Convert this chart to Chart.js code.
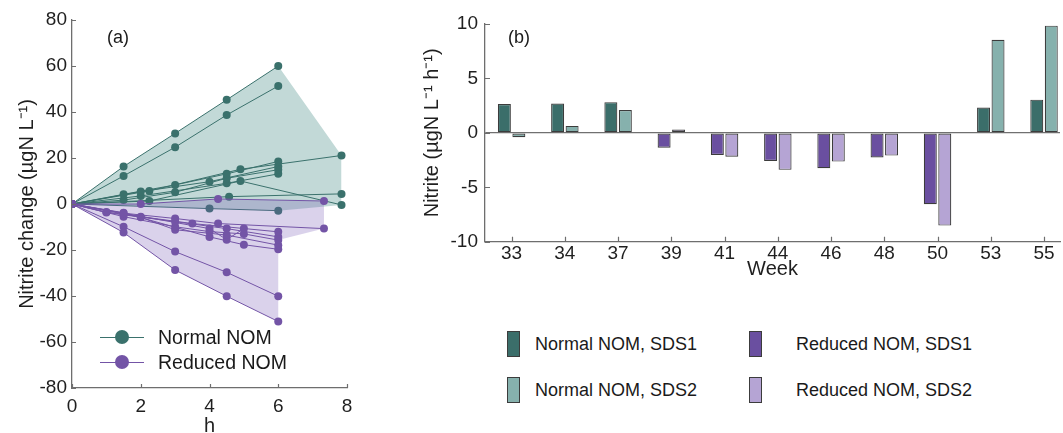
<!DOCTYPE html>
<html lang="en">
<head>
<meta charset="UTF-8">
<title>Nitrite change</title>
<script src="https://cdn.jsdelivr.net/npm/chart.js"></script>
<style>
    html, body { margin: 0; padding: 0; background: #fff; overflow: hidden; }
    body { width: 1063px; height: 433px; position: relative; font-family: 'Liberation Sans', Arial, sans-serif; color: #1a1a1a; }
    canvas { position: absolute; top: 0; }
    #chartA { left: 0; }
    #chartB { left: 400px; }
    .tag { position: absolute; top: 27px; font-size: 18px; }
    .leg-a { position: absolute; left: 100px; height: 24px; display: flex; align-items: center; font-size: 19.5px; }
    .leg-a .mk { position: relative; width: 44px; height: 24px; margin-right: 14px; }
    .leg-a .mk i { position: absolute; left: 0; right: 0; top: 11.5px; height: 1px; }
    .leg-a .mk b { position: absolute; left: 15px; top: 5px; width: 14px; height: 14px; border-radius: 50%; }
    .leg-b { position: absolute; height: 26px; display: flex; align-items: center; font-size: 18px; }
    .leg-b .sw { width: 11px; height: 24px; border: 1px solid #3c3c3c; box-sizing: content-box; }
</style>
</head>
<body>
    <canvas id="chartA" width="370" height="433"></canvas>
    <canvas id="chartB" width="663" height="290"></canvas>

    <div class="tag" style="left:107px">(a)</div>
    <div class="tag" style="left:508px">(b)</div>

    <!-- legende (a) -->
    <div class="leg-a" style="top:325px">
        <span class="mk"><i style="background:#3a716c"></i><b style="background:#3a716c"></b></span>Normal NOM
    </div>
    <div class="leg-a" style="top:350px">
        <span class="mk"><i style="background:#7354a6"></i><b style="background:#7354a6"></b></span>Reduced NOM
    </div>

    <!-- legende (b) -->
    <div class="leg-b" style="left:507px; top:331px"><span class="sw" style="background:#3b6e6a"></span><span style="margin-left:15px">Normal NOM, SDS1</span></div>
    <div class="leg-b" style="left:507px; top:377px"><span class="sw" style="background:#86b1ad"></span><span style="margin-left:15px">Normal NOM, SDS2</span></div>
    <div class="leg-b" style="left:749px; top:331px"><span class="sw" style="background:#6a4fa0"></span><span style="margin-left:34px">Reduced NOM, SDS1</span></div>
    <div class="leg-b" style="left:749px; top:377px"><span class="sw" style="background:#b5a4d4"></span><span style="margin-left:34px">Reduced NOM, SDS2</span></div>

<script>
    // ---- (a) nitrite change over time, [h, value] ----
    const normalRuns = [
        [[0, 0], [1.5, 16.3], [3, 30.7], [4.5, 45.3], [6, 60.0]],
        [[0, 0], [1.5, 12.2], [3, 24.7], [4.5, 38.7], [6, 51.3]],
        [[0, 0], [1.5, 4.2], [3, 8.3], [4.5, 13.1], [6, 18.5]],
        [[0, 0], [2, 5.4], [4, 9.7], [6, 16.3]],
        [[0, 0], [1.5, 1.7], [3, 5.1], [4.5, 11.2], [6, 14.9]],
        [[0, 0], [2.25, 5.7], [4.9, 15.1], [7.84, 21.1]],
        [[0, 0], [2, 3.5], [4.5, 9.0], [6, 13.1]],
        [[0, 0], [2.25, 1.3], [4.9, 10.0], [7.84, -0.4]],
        [[0, 0], [4.57, 3.2], [7.84, 4.4]],
        [[0, 0], [4, -2.0], [6, -2.9]]
    ];
    const reducedRuns = [
        [[0, 0], [1.5, -12.4], [3, -28.7], [4.5, -40.1], [6, -51.1]],
        [[0, 0], [1.5, -9.9], [3, -20.7], [4.5, -29.7], [6, -40.1]],
        [[0, 0], [1, -3.5], [2, -5.5], [3.5, -8.5], [6, -12.1]],
        [[0, 0], [1.5, -4.0], [3, -6.3], [4.25, -8.5], [7.33, -10.7]],
        [[0, 0], [1, -3.7], [3, -7.7], [4.5, -10.7], [6, -14.3]],
        [[0, 0], [1.5, -5.5], [3, -9.9], [4, -12.0], [5, -13.0], [6, -15.7]],
        [[0, 0], [2, -5.8], [3, -11.2], [4.5, -13.5], [6, -17.9]],
        [[0, 0], [1.5, -3.8], [4, -14.3], [5, -17.7], [6, -19.7]],
        [[0, 0], [2, 0.0], [4.25, 2.2], [7.33, 1.3]],
        [[0, 0], [4, -10.7], [4.5, -15.5], [5, -10.7]]
    ];
    const normalUpper = [[0, 0], [1.5, 16.3], [3, 30.7], [4.5, 45.3], [6, 60.0], [7.84, 21.1]];
    const normalLower = [[0, 0], [4, -2.0], [6, -2.9], [7.84, -0.4]];
    const reducedUpper = [[0, 0], [2, 0.0], [4.25, 2.2], [7.33, 1.3]];
    const reducedLower = [[0, 0], [1.5, -12.4], [3, -28.7], [4.5, -40.1], [6, -51.1], [6, -15.7], [7.33, -10.7]];

    // ---- (b) nitrite rate per week ----
    const weeks = ['33', '34', '37', '39', '41', '44', '46', '48', '50', '53', '55'];
    const normalSDS1 = [2.64, 2.70, 2.82, null, null, null, null, null, null, 2.33, 3.05];
    const normalSDS2 = [-0.40, 0.64, 2.09, null, null, null, null, null, null, 8.55, 9.85];
    const reducedSDS1 = [null, null, null, -1.36, -2.03, -2.58, -3.25, -2.27, -6.55, null, null];
    const reducedSDS2 = [null, null, null, 0.30, -2.20, -3.40, -2.64, -2.09, -8.52, null, null];

    const teal = '#3a716c';
    const purple = '#7354a6';
    const axisColor = '#6e6e6e';
    const textColor = '#1f1f1f';
    const tickFont = { family: "'Liberation Sans', Arial, sans-serif", size: 19 };
    const titleFont = { family: "'Liberation Sans', Arial, sans-serif", size: 20, lineHeight: 1 };

    const toXY = pts => pts.map(([x, y]) => ({ x, y }));

    // petits traits de graduation vers l'interieur
    const innerTicks = {
        id: 'innerTicks',
        afterDatasetsDraw(chart, args, opts) {
            const { ctx } = chart;
            const { x, y } = chart.scales;
            ctx.save();
            ctx.strokeStyle = opts.color;
            ctx.lineWidth = 1.2;
            ctx.beginPath();
            x.ticks.forEach(t => {
                const px = Math.round(x.getPixelForValue(t.value)) + 0.5;
                ctx.moveTo(px, x.top);
                ctx.lineTo(px, x.top - opts.len);
            });
            y.ticks.forEach(t => {
                const py = Math.round(y.getPixelForValue(t.value)) + 0.5;
                ctx.moveTo(y.right, py);
                ctx.lineTo(y.right + opts.len, py);
            });
            ctx.stroke();
            ctx.restore();
        }
    };

    // ---- chart (a) ----
    const envelope = (data, fill, color, order) => ({
        data: toXY(data), fill, backgroundColor: color, borderWidth: 0,
        pointRadius: 0, order
    });
    const run = (data, color, order) => ({
        data: toXY(data), borderColor: color, borderWidth: 1, backgroundColor: color,
        pointRadius: 4, pointBorderWidth: 0, pointBackgroundColor: color, fill: false, order
    });

    const datasetsA = [
        envelope(normalUpper, 1, 'rgba(110,165,160,0.42)', 4),
        envelope(normalLower, false, 'transparent', 4),
        envelope(reducedUpper, 3, 'rgba(120,90,180,0.27)', 2),
        envelope(reducedLower, false, 'transparent', 2),
        ...normalRuns.map(r => run(r, teal, 3)),
        ...reducedRuns.map(r => run(r, purple, 1))
    ];

    new Chart(document.getElementById('chartA'), {
        type: 'line',
        data: { datasets: datasetsA },
        options: {
            responsive: false,
            animation: false,
            layout: { padding: { top: 20, right: 23, bottom: 0, left: 0 } },
            plugins: { legend: { display: false }, tooltip: { enabled: false }, innerTicks: { len: 4, color: axisColor } },
            scales: {
                x: {
                    type: 'linear', min: 0, max: 8,
                    ticks: { stepSize: 2, padding: 7, font: tickFont, color: textColor },
                    grid: { display: false, drawTicks: false },
                    border: { color: axisColor, width: 1.3 },
                    title: { display: true, text: 'h', font: titleFont, color: textColor, padding: { top: 0, bottom: -3.5 } },
                    afterFit: s => { s.height = 45; }
                },
                y: {
                    type: 'linear', min: -80, max: 80,
                    ticks: { stepSize: 20, padding: 5, font: tickFont, color: textColor },
                    grid: { display: false, drawTicks: false },
                    border: { color: axisColor, width: 1.3 },
                    title: { display: true, text: 'Nitrite change (µgN L⁻¹)', font: titleFont, color: textColor, padding: { top: 17.5, bottom: 0 } },
                    afterFit: s => { s.width = 72; }
                }
            }
        },
        plugins: [innerTicks]
    });

    // ---- chart (b) ----
    const bars = (label, values, color) => ({
        label,
        data: values.map((v, i) => ({ x: i, y: v })),
        backgroundColor: color,
        borderColor: '#3c3c3c',
        borderWidth: 1.2,
        borderSkipped: false,
        skipNull: true,
        categoryPercentage: 0.544,
        barPercentage: 0.897
    });

    new Chart(document.getElementById('chartB'), {
        type: 'bar',
        data: {
            datasets: [
                bars('Normal NOM, SDS1', normalSDS1, '#3b6e6a'),
                bars('Normal NOM, SDS2', normalSDS2, '#86b1ad'),
                bars('Reduced NOM, SDS1', reducedSDS1, '#6a4fa0'),
                bars('Reduced NOM, SDS2', reducedSDS2, '#b5a4d4')
            ]
        },
        options: {
            responsive: false,
            animation: false,
            layout: { padding: { top: 24, right: 3, bottom: 0, left: 0 } },
            plugins: { legend: { display: false }, tooltip: { enabled: false }, innerTicks: { len: 5, color: axisColor } },
            scales: {
                x: {
                    type: 'linear', min: -0.5, max: 10.3, offset: false,
                    afterBuildTicks: s => { s.ticks = weeks.map((w, i) => ({ value: i })); },
                    ticks: { padding: 1, font: tickFont, color: textColor, callback: v => weeks[v] },
                    grid: { display: false, drawTicks: false },
                    border: { color: axisColor, width: 1.3 },
                    title: { display: true, text: 'Week', font: titleFont, color: textColor, padding: { top: 0, bottom: 11 } },
                    afterFit: s => { s.height = 48.3; }
                },
                y: {
                    type: 'linear', min: -10, max: 10,
                    ticks: { stepSize: 5, padding: 7, font: tickFont, color: textColor },
                    grid: { drawTicks: false, lineWidth: 1.2, color: c => (c.tick && c.tick.value === 0 ? '#707070' : 'rgba(0,0,0,0)') },
                    border: { color: axisColor, width: 1.3 },
                    title: { display: true, text: 'Nitrite (µgN L⁻¹ h⁻¹)', font: titleFont, color: textColor, padding: { top: 22.5, bottom: 0 } },
                    afterFit: s => { s.width = 85; }
                }
            }
        },
        plugins: [innerTicks]
    });
</script>
</body>
</html>
